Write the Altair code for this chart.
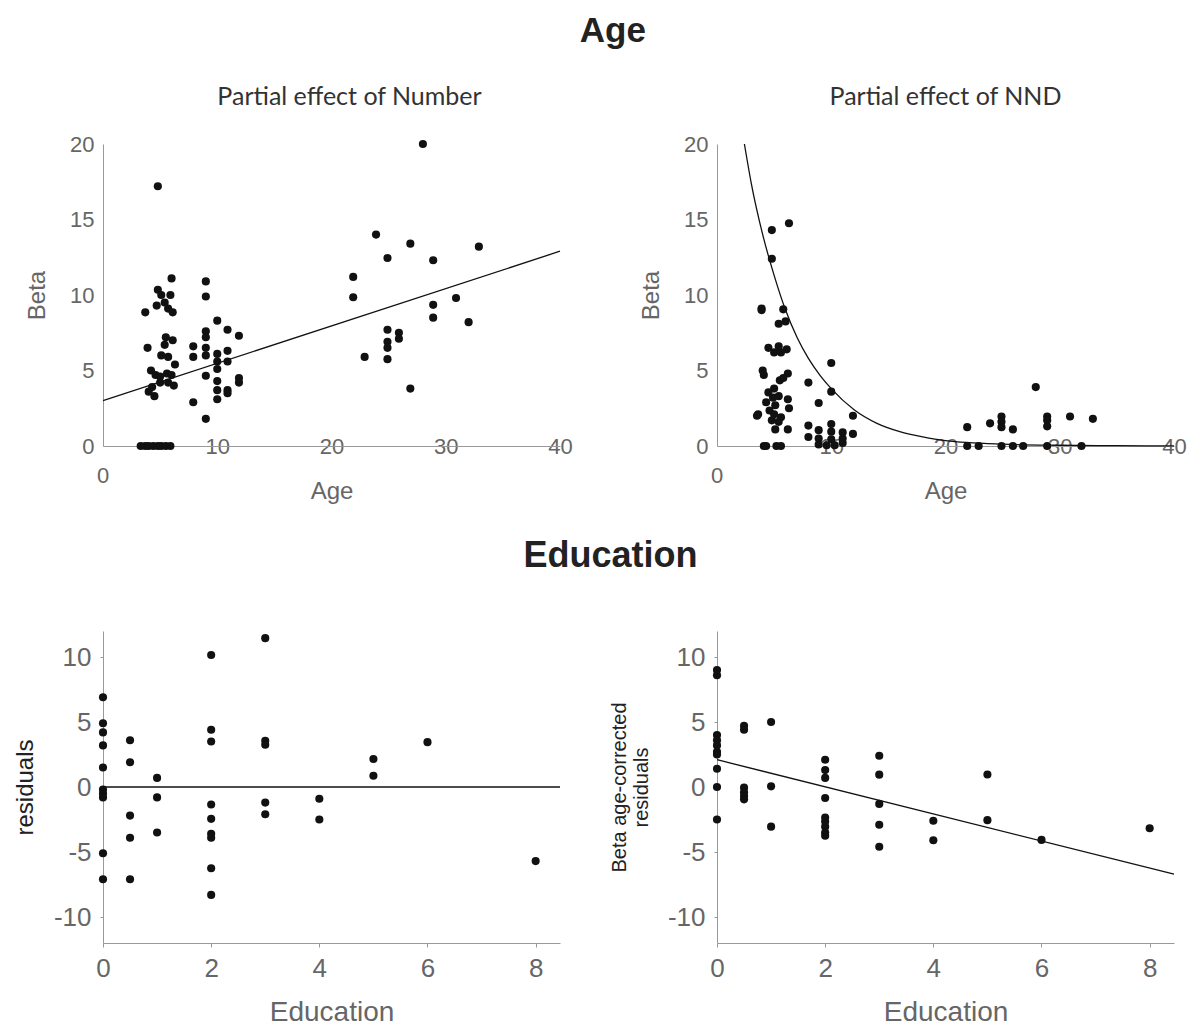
import altair as alt
import pandas as pd

# ---------------- Panel A1: Partial effect of Number ----------------
num_age = [3.3, 3.7, 4.0, 4.4, 4.8, 5.1, 5.5, 5.9,
           4.8, 3.7, 4.8, 6.0, 5.1, 5.9, 4.7, 5.4, 5.7, 6.1, 3.9, 5.5, 6.1, 5.4,
           5.1, 5.7, 6.3, 4.2, 4.6, 5.6, 5.0, 6.0, 5.0, 5.7, 4.3, 6.2, 4.5, 4.0,
           9.0, 9.0, 10.0, 9.0, 10.9, 11.9, 9.0, 7.9, 9.0, 10.0, 7.9, 9.0, 10.9,
           10.0, 10.9, 10.0, 9.0, 11.9, 11.9, 10.0, 10.0, 10.9, 10.9, 10.0, 7.9, 9.0,
           28.0, 23.9, 26.9, 32.9, 24.9, 28.9, 21.9, 21.9, 30.9, 28.9, 28.9, 32.0,
           24.9, 25.9, 25.9, 24.9, 24.9, 22.9, 24.9, 26.9]
num_beta = [0, 0, 0, 0, 0, 0, 0, 0,
            17.2, 8.85, 10.35, 11.1, 10.0, 10.0, 9.3, 9.5, 9.1, 8.85, 6.5, 7.2, 7.0, 6.7,
            6.0, 5.9, 5.4, 5.0, 4.7, 4.8, 4.6, 4.7, 4.2, 4.2, 3.9, 4.0, 3.3, 3.6,
            10.9, 9.9, 8.3, 7.6, 7.7, 7.3, 7.2, 6.6, 6.5, 6.1, 5.9, 6.0, 6.3,
            5.6, 5.6, 5.1, 4.65, 4.5, 4.2, 4.3, 3.7, 3.7, 3.5, 3.1, 2.9, 1.8,
            20.0, 14.0, 13.4, 13.2, 12.45, 12.3, 11.2, 9.85, 9.8, 9.35, 8.5, 8.2,
            7.7, 7.5, 7.1, 6.9, 6.5, 5.9, 5.75, 3.8]
num_fit_age = [0, 40]
num_fit_beta = [3.0, 12.9]

# ---------------- Panel A2: Partial effect of NND ----------------
nnd_age = [6.3, 4.8, 4.8, 3.9, 3.9, 5.8, 5.4, 6.0, 4.5, 5.4, 5.0, 6.1, 5.6,
           4.0, 4.1, 6.2, 5.5, 5.8, 4.5, 5.0, 4.9, 5.4, 6.2, 4.3, 5.1, 4.6, 6.3,
           3.6, 3.5, 5.0, 5.6, 4.8, 5.4, 5.1, 6.2, 4.1, 4.3, 5.2, 5.6,
           8.0, 8.9, 10.0, 10.0, 11.9, 8.0, 8.0, 10.0, 8.9, 10.0, 11.0, 11.9,
           8.9, 10.0, 8.9, 9.6, 10.3, 11.0, 11.0,
           27.9, 21.9, 23.9, 24.9, 24.9, 24.9, 25.9, 28.9, 28.9, 28.9, 30.9, 32.9,
           21.9, 22.9, 24.9, 25.9, 26.8, 28.9, 31.9]
nnd_beta = [14.75, 14.3, 12.4, 9.1, 9.0, 9.05, 8.1, 8.25, 6.5, 6.6, 6.2, 6.4, 6.2,
            5.0, 4.7, 4.8, 4.35, 4.5, 3.55, 3.8, 3.2, 3.3, 3.1, 2.9, 2.7, 2.35, 2.5,
            2.1, 2.0, 2.1, 1.9, 1.7, 1.6, 1.1, 1.1, 0, 0, 0, 0,
            4.2, 2.85, 5.5, 3.6, 2.0, 1.35, 0.6, 1.45, 1.05, 0.95, 0.9, 0.8,
            0.5, 0.45, 0.1, 0.05, 0.05, 0.2, 0.5,
            3.9, 1.25, 1.5, 1.95, 1.6, 1.25, 1.1, 1.95, 1.7, 1.3, 1.95, 1.8,
            0, 0, 0, 0, 0, 0, 0]
nnd_fit_age = [2.4, 3, 4, 5, 6, 7, 8, 9, 10, 12, 14, 16, 18, 20, 25, 30, 35, 40]
nnd_fit_beta = [20.0, 17.4, 14.0, 11.3, 9.0, 7.2, 5.8, 4.7, 3.8, 2.4, 1.5, 0.95,
                0.6, 0.35, 0.12, 0.05, 0.02, 0.01]

# ---------------- Panel B1: residuals vs Education ----------------
edu1_x = [0, 0, 0, 0, 0, 0, 0, 0, 0, 0,
          0.5, 0.5, 0.5, 0.5, 0.5,
          1, 1, 1,
          2, 2, 2, 2, 2, 2, 2, 2, 2,
          3, 3, 3, 3, 3,
          4, 4, 5, 5, 6, 8]
edu1_y = [6.9, 4.9, 4.2, 3.2, 1.5, -0.2, -0.5, -0.8, -5.1, -7.1,
          3.6, 1.9, -2.2, -3.9, -7.1,
          0.7, -0.8, -3.5,
          10.15, 4.4, 3.5, -1.35, -2.45, -3.6, -3.9, -6.25, -8.3,
          11.45, 3.55, 3.25, -1.2, -2.1,
          -0.9, -2.5, 2.15, 0.87, 3.45, -5.7]
edu1_fit_x = [0, 8.45]
edu1_fit_y = [0, 0]

# ---------------- Panel B2: age-corrected residuals vs Education ----------------
edu2_x = [0, 0, 0, 0, 0, 0, 0, 0, 0, 0,
          0.5, 0.5, 0.5, 0.5, 0.5, 0.5,
          1, 1, 1,
          2, 2, 2, 2, 2, 2, 2, 2, 2,
          3, 3, 3, 3, 3,
          4, 4, 5, 5, 6, 8]
edu2_y = [9.0, 8.6, 4.0, 3.6, 3.2, 2.7, 2.5, 1.4, 0.0, -2.5,
          4.7, 4.4, -0.05, -0.4, -0.7, -0.95,
          5.0, 0.05, -3.05,
          2.1, 1.3, 0.7, -0.85, -2.35, -2.65, -3.05, -3.5, -3.75,
          2.4, 0.95, -1.3, -2.9, -4.6,
          -2.6, -4.1, 0.96, -2.55, -4.07, -3.17]
edu2_fit_x = [0, 8.45]
edu2_fit_y = [2.1, -6.7]

TICK_FONT = "Liberation Sans"
GRAY = "#666666"
AXIS_GRAY = "#999999"
LABEL_EXPR = "'' + datum.value"


def panel(px, py, lx, ly, xdom, ydom, xvals, yvals, xtitle, ytitle, top,
          interp="linear", ytitle_color=GRAY, ytitle_size=24, tick_size=22,
          xtitle_size=24, ytitle_pad=20):
    pts = pd.DataFrame({"x": px, "y": py})
    fit = pd.DataFrame({"x": lx, "y": ly})
    if top:
        xaxis = alt.Axis(values=xvals, title=xtitle, grid=False, ticks=False,
                         tickSize=0, labelExpr="datum.value == 0 ? '' : '' + datum.value",
                         labelBaseline="middle", labelPadding=0,
                         labelFlush=False, labelOverlap=False,
                         labelFont=TICK_FONT, labelFontSize=tick_size, labelColor=GRAY,
                         domainColor=AXIS_GRAY, titleFont=TICK_FONT,
                         titleFontSize=xtitle_size, titleFontWeight="normal",
                         titleColor=GRAY, titlePadding=22)
    else:
        xaxis = alt.Axis(values=xvals, title=xtitle, grid=False, ticks=True,
                         tickSize=4, tickColor=AXIS_GRAY, labelExpr=LABEL_EXPR,
                         labelPadding=8, labelFlush=False, labelOverlap=False,
                         labelFont=TICK_FONT, labelFontSize=tick_size, labelColor=GRAY,
                         domainColor=AXIS_GRAY, titleFont=TICK_FONT,
                         titleFontSize=xtitle_size, titleFontWeight="normal",
                         titleColor=GRAY, titlePadding=17)
    yaxis = alt.Axis(values=yvals, title=ytitle, grid=False, ticks=not top,
                     tickSize=3, tickColor=AXIS_GRAY, labelExpr=LABEL_EXPR,
                     labelPadding=9, labelFlush=False, labelOverlap=False,
                     labelFont=TICK_FONT, labelFontSize=tick_size, labelColor=GRAY,
                     domainColor=AXIS_GRAY, titleFont=TICK_FONT,
                     titleFontSize=ytitle_size, titleFontWeight="normal",
                     titleColor=ytitle_color, titlePadding=ytitle_pad)
    xs = alt.Scale(domain=xdom, nice=False, zero=False)
    ys = alt.Scale(domain=ydom, nice=False, zero=False)
    points = alt.Chart(pts).mark_circle(size=66, color="#111111", opacity=1).encode(
        x=alt.X("x:Q", scale=xs, axis=xaxis),
        y=alt.Y("y:Q", scale=ys, axis=yaxis),
    )
    line = alt.Chart(fit).mark_line(color="#111111", strokeWidth=1.3,
                                    interpolate=interp).encode(
        x=alt.X("x:Q", scale=xs), y=alt.Y("y:Q", scale=ys))
    layers = [line, points]
    if top:
        zero = alt.Chart(pd.DataFrame({"x": [0], "y": [0], "t": ["0"]})).mark_text(
            font=TICK_FONT, fontSize=tick_size, color=GRAY, baseline="middle",
            align="center", dy=30).encode(
            x=alt.X("x:Q", scale=xs), y=alt.Y("y:Q", scale=ys), text="t:N")
        layers.append(zero)
    return alt.layer(*layers)


W = 457

tl = panel(num_age, num_beta, num_fit_age, num_fit_beta, [0, 40], [0, 20],
           [0, 10, 20, 30, 40], [0, 5, 10, 15, 20], "Age", "Beta", True)
tl = tl.properties(width=W, height=302, title=alt.TitleParams(
    "Partial effect of Number", font="Lato", fontSize=25, fontWeight="normal",
    color="#333333", anchor="middle", dx=18, offset=23))

tr = panel(nnd_age, nnd_beta, nnd_fit_age, nnd_fit_beta, [0, 40], [0, 20],
           [0, 10, 20, 30, 40], [0, 5, 10, 15, 20], "Age", "Beta", True,
           interp="monotone")
tr = tr.properties(width=W, height=302, title=alt.TitleParams(
    "Partial effect of NND", font="Lato", fontSize=25, fontWeight="normal",
    color="#333333", anchor="middle", offset=23))

bl = panel(edu1_x, edu1_y, edu1_fit_x, edu1_fit_y, [0, 8.45], [-12, 12],
           [0, 2, 4, 6, 8], [-10, -5, 0, 5, 10], "Education", "residuals", False,
           ytitle_color="#222222", ytitle_size=24, tick_size=26, xtitle_size=28,
           ytitle_pad=16)
bl = bl.properties(width=W, height=312, title=alt.TitleParams(
    "Education", font=TICK_FONT, fontSize=36, fontWeight="bold", color="#222222",
    anchor="middle", dx=279, offset=56))

br = panel(edu2_x, edu2_y, edu2_fit_x, edu2_fit_y, [0, 8.45], [-12, 12],
           [0, 2, 4, 6, 8], [-10, -5, 0, 5, 10], "Education",
           ["Beta age-corrected", "residuals"], False,
           ytitle_color="#222222", ytitle_size=20, tick_size=26, xtitle_size=28,
           ytitle_pad=16)
br = br.properties(width=W, height=312)

chart = alt.concat(tl, tr, bl, br, columns=2, bounds="flush",
                   spacing={"row": 185, "column": 157}).properties(
    title=alt.TitleParams("Age", font=TICK_FONT, fontSize=35, fontWeight="bold",
                          color="#222222", anchor="middle", offset=36, dx=13),
    padding={"left": 5, "top": 6, "right": 0, "bottom": 0},
).configure_view(stroke=None)

chart.save("out.html", embed_options={"renderer": "svg", "actions": False})
